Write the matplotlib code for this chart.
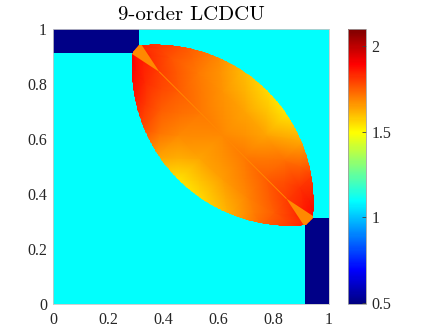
import numpy as np
import matplotlib
matplotlib.use("Agg")
import matplotlib.pyplot as plt
from matplotlib.colors import LinearSegmentedColormap, Normalize
from matplotlib.cm import ScalarMappable
from matplotlib.path import Path
from matplotlib.patches import PathPatch

# density levels
BACKGROUND_VALUE = 1.1
BLOCK_VALUE = 0.5065
WEDGE_VALUE = 1.68
CLIM = (0.49, 2.1)
CBAR_TICKS = [0.5, 1, 1.5, 2]
AXIS_TICKS = [0, 0.2, 0.4, 0.6, 0.8, 1]
AXIS_TICK_LABELS = ["0", "0.2", "0.4", "0.6", "0.8", "1"]
TITLE = "9-order LCDCU"

# low density corner blocks (x0, x1, y0, y1)
BLOCK_TL = (0.0, 0.311, 0.915, 1.0)
BLOCK_BR = (0.915, 1.0, 0.0, 0.311)

# lens between two circular fronts, centres on the diagonal x = y
UPPER_ARC_CENTER = 0.37
LOWER_ARC_CENTER = 0.86
ARC_RADIUS = 0.575
TIP_V = 0.4455          # lens is cut off at this distance from its middle
WEDGE_APEX_V = 0.325

# lens values, s: top-left tip (0) -> bottom-right tip (1),
# t: lower arc (-1) -> upper arc (+1)
LENS_S = [0, 0.125, 0.25, 0.375, 0.5, 0.625, 0.75, 0.875, 1]
LENS_T = [-1, -0.5, 0, 0.5, 1]
LENS_LOWER_ARC = [1.92, 1.87, 1.78, 1.64, 1.53, 1.55, 1.62, 1.74, 1.84]
LENS_LOWER_MID = [1.89, 1.83, 1.75, 1.68, 1.64, 1.65, 1.69, 1.76, 1.85]
LENS_AXIS = [1.87, 1.81, 1.75, 1.71, 1.68, 1.71, 1.75, 1.81, 1.87]
LENS_UPPER_MID = [1.85, 1.77, 1.71, 1.66, 1.64, 1.64, 1.72, 1.82, 1.89]
LENS_UPPER_ARC = [1.84, 1.77, 1.69, 1.60, 1.55, 1.53, 1.63, 1.80, 1.92]

# MATLAB style jet
cmap = LinearSegmentedColormap.from_list("mjet", [
    (0.0, (0, 0, 0.5)), (0.125, (0, 0, 1)), (0.375, (0, 1, 1)),
    (0.625, (1, 1, 0)), (0.875, (1, 0, 0)), (1.0, (0.5, 0, 0))], N=256)
norm = Normalize(*CLIM)

mid = 0.5 * (UPPER_ARC_CENTER + LOWER_ARC_CENTER)
half_dist = (LOWER_ARC_CENTER - UPPER_ARC_CENTER) / np.sqrt(2)


def half_width(v):
    return np.sqrt(ARC_RADIUS ** 2 - v ** 2) - half_dist


def to_xy(u, v):
    u = np.asarray(u, float)
    v = np.asarray(v, float)
    return mid + (u - v) / np.sqrt(2), mid + (u + v) / np.sqrt(2)


fig = plt.figure(figsize=(4.24, 3.36), dpi=100)
ax = fig.add_axes([0.1257, 0.0943, 0.650, 0.8185])
cax = fig.add_axes([0.8215, 0.0943, 0.0417, 0.8185])

ax.imshow([[BACKGROUND_VALUE]], extent=(0, 1, 0, 1), cmap=cmap, norm=norm,
          aspect="auto", zorder=0)
for x0, x1, y0, y1 in (BLOCK_TL, BLOCK_BR):
    ax.imshow([[BLOCK_VALUE]], extent=(x0, x1, y0, y1), cmap=cmap, norm=norm,
              aspect="auto", zorder=1)

# lens outline
vv = np.linspace(TIP_V, -TIP_V, 300)
u_path = np.concatenate([half_width(vv), -half_width(vv[::-1])])
v_path = np.concatenate([vv, vv[::-1]])
px, py = to_xy(u_path, v_path)
lens_path = Path(np.column_stack([px, py]), closed=False)
lens_patch = PathPatch(lens_path, transform=ax.transData, facecolor="none",
                       edgecolor="none")

S, T = np.meshgrid(LENS_S, LENS_T)
V = TIP_V * (1 - 2 * S)
U = T * (half_width(V) + 0.008)
X, Y = to_xy(U, V)
C = np.array([LENS_LOWER_ARC, LENS_LOWER_MID, LENS_AXIS, LENS_UPPER_MID,
              LENS_UPPER_ARC])
mesh = ax.pcolormesh(X, Y, C, shading="gouraud", cmap=cmap, norm=norm, zorder=2)
mesh.set_clip_path(lens_patch)

wedge_color = cmap(norm(WEDGE_VALUE))
tip_w = half_width(TIP_V) + 0.01
for sgn in (1, -1):
    wx, wy = to_xy([tip_w, -tip_w, 0], [sgn * (TIP_V + 0.01),
                                         sgn * (TIP_V + 0.01),
                                         sgn * WEDGE_APEX_V])
    patches = ax.fill(wx, wy, color=wedge_color, lw=0, zorder=3)
    for p in patches:
        p.set_clip_path(lens_patch)
lx, ly = to_xy([0, 0], [WEDGE_APEX_V, -WEDGE_APEX_V])
ax.plot(lx, ly, color=wedge_color, lw=0.7, zorder=3)

ax.set_xlim(0, 1)
ax.set_ylim(0, 1)
ax.set_xticks(AXIS_TICKS)
ax.set_xticklabels(AXIS_TICK_LABELS)
ax.set_yticks(AXIS_TICKS)
ax.set_yticklabels(AXIS_TICK_LABELS)
ax.tick_params(axis="x", length=0, pad=5.5, labelsize=11.5)
ax.tick_params(axis="y", length=0, pad=4.5, labelsize=11.5)
for lab in ax.get_xticklabels() + ax.get_yticklabels():
    lab.set_fontfamily("Liberation Serif")
    lab.set_color("#262626")
for sp in ax.spines.values():
    sp.set_color("#c8c8c8")
    sp.set_linewidth(0.6)
ax.set_title(TITLE, fontfamily="cmr10", fontsize=15, pad=6.5)

cb = fig.colorbar(ScalarMappable(norm=norm, cmap=cmap), cax=cax, ticks=CBAR_TICKS)
cb.ax.set_yticklabels(["0.5", "1", "1.5", "2"])
cb.ax.tick_params(direction="in", length=3, width=0.6, color="#404040",
                  pad=4, labelsize=11.5)
for lab in cb.ax.get_yticklabels():
    lab.set_fontfamily("Liberation Serif")
    lab.set_color("#262626")
cb.outline.set_edgecolor("#a0a0a0")
cb.outline.set_linewidth(0.6)

fig.savefig("out.png", dpi=100)
